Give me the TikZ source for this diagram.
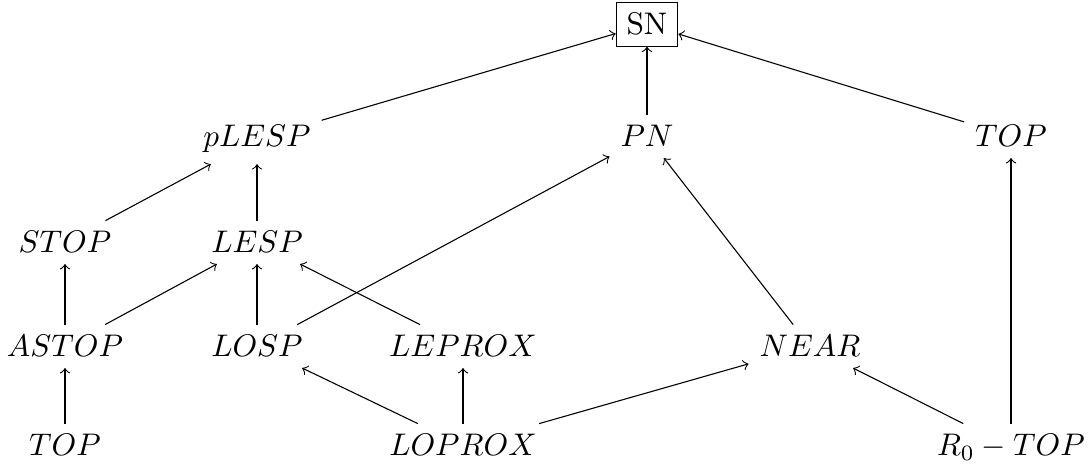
\documentclass[tikz,border=0pt]{standalone}
\begin{document}
\begin{tikzpicture}[x=0.32pt,y=-0.32pt,
  term/.style={anchor=base},
  link/.style={->,line width=0.35pt}]
\useasboundingbox (0,0) rectangle (1090,468);
% nodes, placed by baseline
\node[term,draw,line width=0.35pt] (sn) at (647,35) {SN};
\node[term] (plesp)  at (257,147) {$pLESP$};
\node[term] (pn)     at (647,147) {$PN$};
\node[term] (topr)   at (1011,147) {$TOP$};
\node[term] (stop)   at (65,253)  {$STOP$};
\node[term] (lesp)   at (257,253) {$LESP$};
\node[term] (astop)  at (65,357)  {$ASTOP$};
\node[term] (losp)   at (257,357) {$LOSP$};
\node[term] (leprox) at (463,357) {$LEPROX$};
\node[term] (near)   at (810,357) {$NEAR$};
\node[term] (topl)   at (65,456)  {$TOP$};
\node[term] (loprox) at (463,456) {$LOPROX$};
\node[term] (rtop)   at (1011,456) {$R_0-TOP$};
% connectors
\draw[link] (plesp) -- (sn);
\draw[link] (pn) -- (sn);
\draw[link] (topr) -- (sn);
\draw[link] (stop) -- (plesp);
\draw[link] (lesp) -- (plesp);
\draw[link] (astop) -- (stop);
\draw[link] (astop) -- (lesp);
\draw[link] (losp) -- (lesp);
\draw[link] (leprox) -- (lesp);
\draw[link] (losp) -- (pn);
\draw[link] (near) -- (pn);
\draw[link] (topl) -- (astop);
\draw[link] (loprox) -- (losp);
\draw[link] (loprox) -- (leprox);
\draw[link] (loprox) -- (near);
\draw[link] (rtop) -- (near);
\draw[link] (rtop) -- (topr);
\end{tikzpicture}
\end{document}
